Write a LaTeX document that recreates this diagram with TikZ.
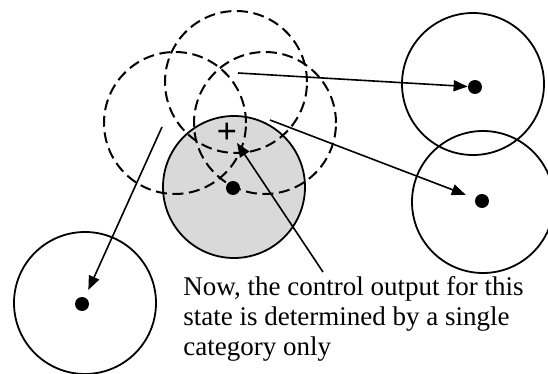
\documentclass[tikz,border=0pt]{standalone}
\usepackage{fontspec}
\setmainfont{Liberation Serif}
\usetikzlibrary{arrows.meta}

\begin{document}
\begin{tikzpicture}[x=0.5pt, y=-0.5pt, every node/.style={font=\fontsize{13.5}{15}\selectfont},
	region/.style={circle, draw, line width=0.9pt, minimum size=71pt, inner sep=0pt},
	ghost/.style={region, line width=1pt, dash pattern=on 5.5pt off 2.8pt},
	centre/.style={circle, fill, inner sep=0pt, minimum size=7pt},
	link/.style={-{Triangle[length=7pt, width=5.5pt]}, line width=0.8pt}]
	\useasboundingbox (0,0) rectangle (548,374);
	\clip (0,0) rectangle (548,374);
	% winning category and its overlapping neighbours
	\node[region, fill=gray!30] (win) at (234,187) {};
	\node[ghost] (ghostL) at (175,123) {};
	\node[ghost] (ghostT) at (236,82) {};
	\node[ghost] (ghostR) at (265,123) {};
	\node[centre] (dotW) at (233,188) {};
	\node[font=\fontsize{18}{18}\selectfont\bfseries, inner sep=0pt] (plus) at (227,133) {+};
	% moved categories
	\node[region] (catTR) at (473,84) {};
	\node[region] (catBR) at (483,202) {};
	\node[region] (catBL) at (85,303) {};
	\node[centre] (dotTR) at (475,87) {};
	\node[centre] (dotBR) at (482,201) {};
	\node[centre] (dotBL) at (82,304) {};
	\coordinate (fromT) at (238,73);
	\coordinate (fromR) at (270,120);
	\coordinate (fromL) at (162,127);
	\coordinate (fromTxt) at (323,272);
	\coordinate (hit) at (237,143);
	\draw[link] (fromT) -- (dotTR);
	\draw[link, shorten >=5pt] (fromR) -- (dotBR);
	\draw[link, shorten >=4pt] (fromL) -- (dotBL);
	\draw[link] (fromTxt) -- (hit);
	\node[anchor=north west, align=left, inner sep=0pt] (note) at (183,276) {Now, the control output for this\\ state is determined by a single\\ category only};
\end{tikzpicture}
\end{document}
